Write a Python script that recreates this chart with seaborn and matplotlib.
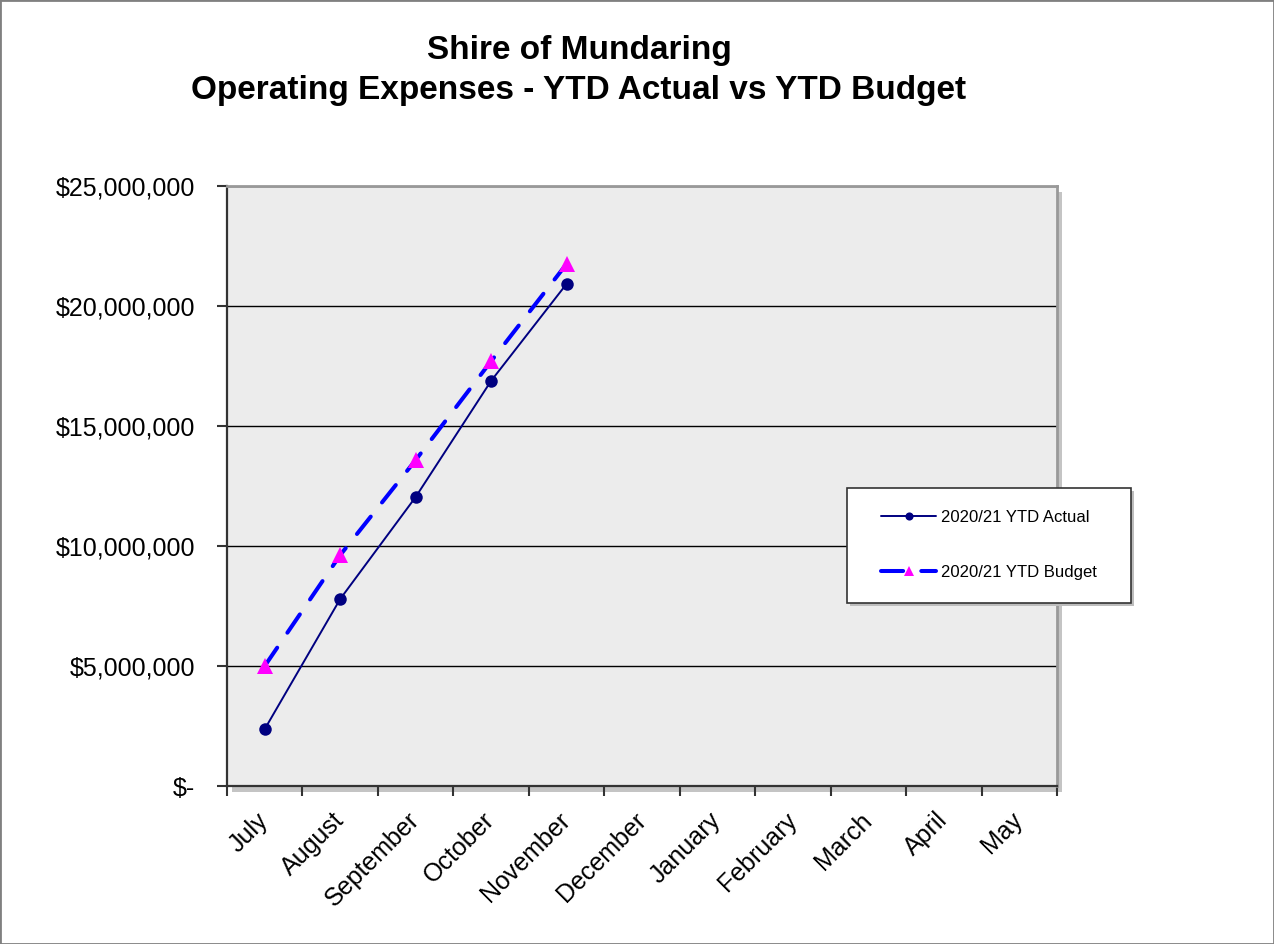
import numpy as np
import pandas as pd
import matplotlib
matplotlib.use("Agg")
import matplotlib.pyplot as plt
from matplotlib.ticker import FuncFormatter
from matplotlib.patches import Rectangle
import seaborn as sns

# ---- data ----
months = ["July", "August", "September", "October", "November", "December",
          "January", "February", "March", "April", "May"]
actual = [2.37e6, 7.79e6, 12.04e6, 16.88e6, 20.92e6]
budget = [5.00e6, 9.62e6, 13.58e6, 17.70e6, 21.75e6]
yticks = [0, 5e6, 10e6, 15e6, 20e6, 25e6]
series_labels = ["2020/21 YTD Actual", "2020/21 YTD Budget"]
title_lines = ["Shire of Mundaring", "Operating Expenses - YTD Actual vs YTD Budget"]

sns.set_theme(style="white")
plt.rcParams['font.family'] = ['Liberation Sans', 'DejaVu Sans']
plt.rcParams['text.color'] = 'black'
plt.rcParams['xtick.color'] = 'black'
plt.rcParams['ytick.color'] = 'black'

W, H = 1274, 944
fig = plt.figure(figsize=(W / 100, H / 100), dpi=100)
fig.patch.set_facecolor("white")

# plot area in pixel terms
L, R, T, B = 227, 1057, 186, 786
ax = fig.add_axes([L / W, 1 - B / H, (R - L) / W, (B - T) / H])

# shadow behind plot area
fig.patches.append(Rectangle(((L + 5) / W, 1 - (B + 6) / H), (R - L) / W, (B - T) / H,
                             transform=fig.transFigure, facecolor="#c4c4c4",
                             edgecolor="none", zorder=-1))

df_a = pd.DataFrame({"pos": np.arange(len(actual)), "value": actual})
df_b = pd.DataFrame({"pos": np.arange(len(budget)), "value": budget})

sns.lineplot(data=df_a, x="pos", y="value", ax=ax, color="#000080", lw=1.4,
             marker="o", markersize=9, markeredgewidth=0, label=series_labels[0],
             zorder=3)
sns.lineplot(data=df_b, x="pos", y="value", ax=ax, color="#0000FF", lw=2.9,
             linestyle=(0, (5.5, 4.5)), dash_capstyle="round",
             marker="^", markersize=12, markerfacecolor="#FF00FF",
             markeredgecolor="#FF00FF", markeredgewidth=0,
             label=series_labels[1], zorder=4)

handles, labels = ax.get_legend_handles_labels()
if ax.get_legend() is not None:
    ax.get_legend().remove()

ax.set_xlim(-0.5, len(months) - 0.5)
ax.set_ylim(0, 25e6)
ax.set_facecolor("#ECECEC")
ax.set_xlabel("")
ax.set_ylabel("")

ax.set_yticks(yticks)
ax.yaxis.set_major_formatter(FuncFormatter(lambda v, p: "$-" if v == 0 else f"${v:,.0f}"))
ax.set_axisbelow(True)
ax.grid(axis="y", color="black", lw=1.0)
ax.grid(axis="x", visible=False)

ax.set_xticks(np.arange(-0.5, len(months), 1))
ax.set_xticklabels([])
ax.set_xticks(np.arange(len(months)), minor=True)
ax.set_xticklabels(months, minor=True, rotation=45, ha="right", va="center",
                   rotation_mode="anchor", fontsize=18, color="black")

ax.tick_params(axis="x", which="major", length=7, width=1.5, color="#333333",
               direction="out", bottom=True)
ax.tick_params(axis="x", which="minor", length=0, pad=22, bottom=True,
               labelcolor="black")
ax.tick_params(axis="y", length=7, width=1.5, color="#333333", direction="out",
               pad=16, labelsize=18, left=True, labelcolor="black")

for s in ["left", "bottom"]:
    ax.spines[s].set_color("#333333")
    ax.spines[s].set_linewidth(1.6)
for s in ["top", "right"]:
    ax.spines[s].set_color("#999999")
    ax.spines[s].set_linewidth(2.0)

# title
fig.text(579 / W, 1 - 50 / H, title_lines[0], ha="center", va="center",
         fontsize=24, fontweight="bold", color="black")
fig.text(579 / W, 1 - 90 / H, title_lines[1], ha="center", va="center",
         fontsize=24, fontweight="bold", color="black")

# legend box
LL, LR, LT, LB = 847, 1131, 488, 603
fig.patches.append(Rectangle(((LL + 3) / W, 1 - (LB + 3) / H), (LR - LL) / W, (LB - LT) / H,
                             transform=fig.transFigure, facecolor="#bdbdbd",
                             edgecolor="none", zorder=3.9))
fig.patches.append(Rectangle((LL / W, 1 - LB / H), (LR - LL) / W, (LB - LT) / H,
                             transform=fig.transFigure, facecolor="white",
                             edgecolor="#333333", lw=1.2, zorder=4))
leg = fig.legend(handles, labels, loc="center left",
                 bbox_to_anchor=(866 / W, 1 - 545 / H), frameon=False,
                 fontsize=12, handlelength=3.3, handletextpad=0.3,
                 labelspacing=2.4, markerscale=0.65)
leg.set_zorder(6)
for t in leg.get_texts():
    t.set_color("black")

# figure border
fig.patches.append(Rectangle((0, 0), 1, 1, transform=fig.transFigure, fill=False,
                             edgecolor="#808080", lw=2, zorder=10))

fig.savefig("out.png", dpi=100)
